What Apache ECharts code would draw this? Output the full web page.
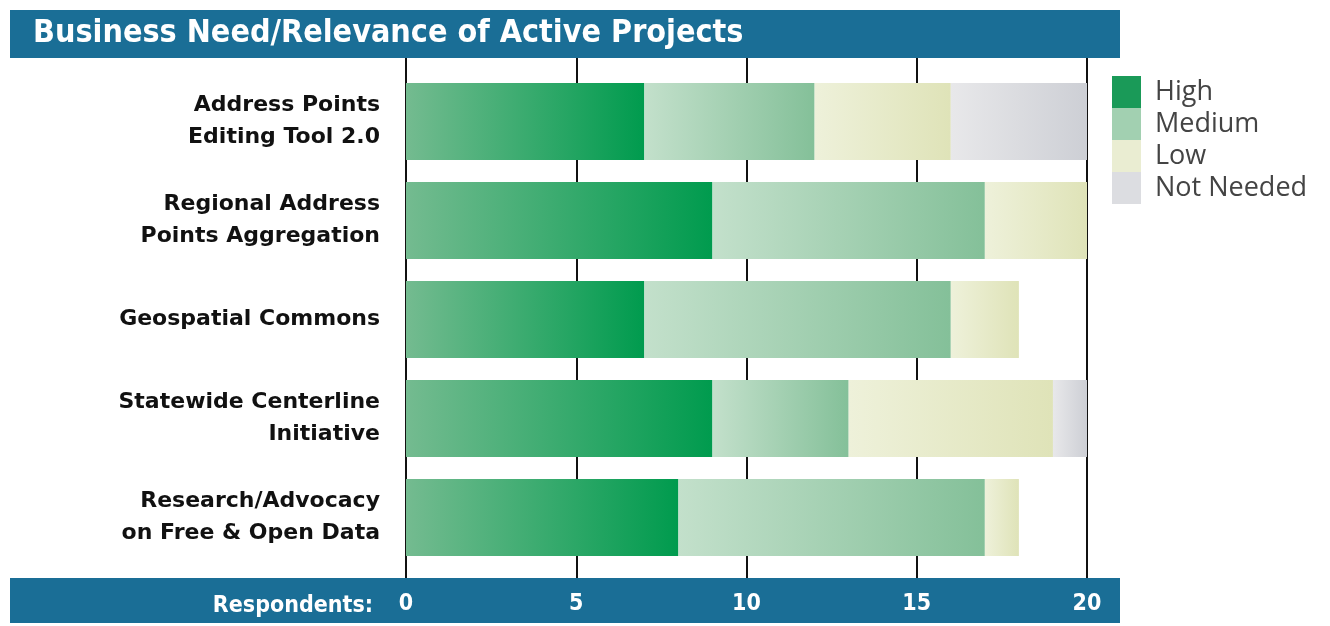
<!DOCTYPE html>
<html>
<head>
<meta charset="utf-8">
<script src="https://cdn.jsdelivr.net/npm/echarts@6/dist/echarts.min.js"></script>
<style>
  html, body { margin: 0; padding: 0; background: #fff; }
  #chart { width: 1330px; height: 626px; }
</style>
</head>
<body>
<div id="chart"></div>
<script>
// projects, top to bottom
const projects = [
  "Address Points\nEditing Tool 2.0",
  "Regional Address\nPoints Aggregation",
  "Geospatial Commons",
  "Statewide Centerline\nInitiative",
  "Research/Advocacy\non Free & Open Data"
];
const highVals = [7, 9, 7, 9, 8];
const mediumVals = [5, 8, 9, 4, 9];
const lowVals = [4, 3, 2, 6, 1];
const notNeededVals = [4, 0, 0, 1, 0];
const tickValues = [0, 5, 10, 15, 20];

const BLUE = "#1a6e96";

function grad(from, to) {
  return new echarts.graphic.LinearGradient(0, 0, 1, 0, [
    { offset: 0, color: from },
    { offset: 1, color: to }
  ]);
}

// name, values, gradient colours, legend colour
const seriesDefs = [
  ["High", highVals, "#74bb90", "#009b4e", "#1a9a58"],
  ["Medium", mediumVals, "#c3e0cb", "#84c099", "#a2d0b1"],
  ["Low", lowVals, "#eef1da", "#dfe3b8", "#eaedd2"],
  ["Not Needed", notNeededVals, "#e8e8ea", "#cdcfd5", "#dcdde1"]
];

const chart = echarts.init(document.getElementById("chart"));

const series = seriesDefs.map(function (d) {
  return {
    name: d[0],
    type: "bar",
    stack: "total",
    xAxisIndex: 0,
    yAxisIndex: 0,
    barWidth: 77,
    data: d[1],
    itemStyle: { color: grad(d[2], d[3]) },
    emphasis: { disabled: true },
    z: 3
  };
});

const option = {
  animation: false,
  title: {
    text: "Business Need/Relevance of Active Projects",
    left: 28,
    top: 13,
    textStyle: {
      color: "#fff",
      fontFamily: "DejaVu Sans Condensed",
      fontWeight: "bold",
      fontSize: 32
    }
  },
  graphic: [
    { type: "rect", z: -10, shape: { x: 10, y: 10, width: 1110, height: 48 }, style: { fill: BLUE } },
    { type: "rect", z: -10, shape: { x: 10, y: 578, width: 1110, height: 45 }, style: { fill: BLUE } },
    {
      type: "text", z: 10,
      style: {
        x: 373, y: 606, text: "Respondents:", fill: "#fff",
        font: "bold 23px 'DejaVu Sans Condensed'",
        textAlign: "right", textVerticalAlign: "middle"
      }
    }
  ],
  legend: {
    orient: "vertical",
    left: 1112,
    top: 76,
    padding: 0,
    itemWidth: 29,
    itemHeight: 32,
    itemGap: 0,
    icon: "rect",
    textStyle: { fontSize: 27, color: "#444", fontFamily: "Open Sans", padding: [0, 0, 4, 9] },
    data: seriesDefs.map(function (d) {
      return { name: d[0], itemStyle: { color: d[4] } };
    })
  },
  grid: [
    { left: 406, right: 243, top: 72, bottom: 59 },
    { left: 406, right: 243, top: 58, bottom: 48 }
  ],
  xAxis: [
    {
      gridIndex: 0, type: "value", min: 0, max: 20, interval: 5,
      axisLine: { show: false }, axisTick: { show: false },
      axisLabel: { show: false }, splitLine: { show: false }
    },
    {
      gridIndex: 1, type: "value", min: 0, max: 20, interval: 5,
      axisLine: { show: false }, axisTick: { show: false },
      axisLabel: {
        show: true, margin: 15, color: "#fff", fontSize: 23,
        fontWeight: "bold", fontFamily: "DejaVu Sans Condensed",
        formatter: function (v) { return tickValues.indexOf(v) >= 0 ? String(v) : ""; }
      },
      splitLine: { show: true, lineStyle: { color: "#111", width: 2 } }
    }
  ],
  yAxis: [
    {
      gridIndex: 0, type: "category", inverse: true, data: projects,
      axisLine: { show: false }, axisTick: { show: false },
      axisLabel: {
        margin: 26, color: "#111", fontSize: 22, fontWeight: "bold",
        fontFamily: "DejaVu Sans", lineHeight: 32, align: "right",
        padding: [0, 0, 16, 0]
      }
    },
    {
      gridIndex: 1, type: "value", min: 0, max: 1, show: false
    }
  ],
  series: series
};

chart.setOption(option);
</script>
</body>
</html>
